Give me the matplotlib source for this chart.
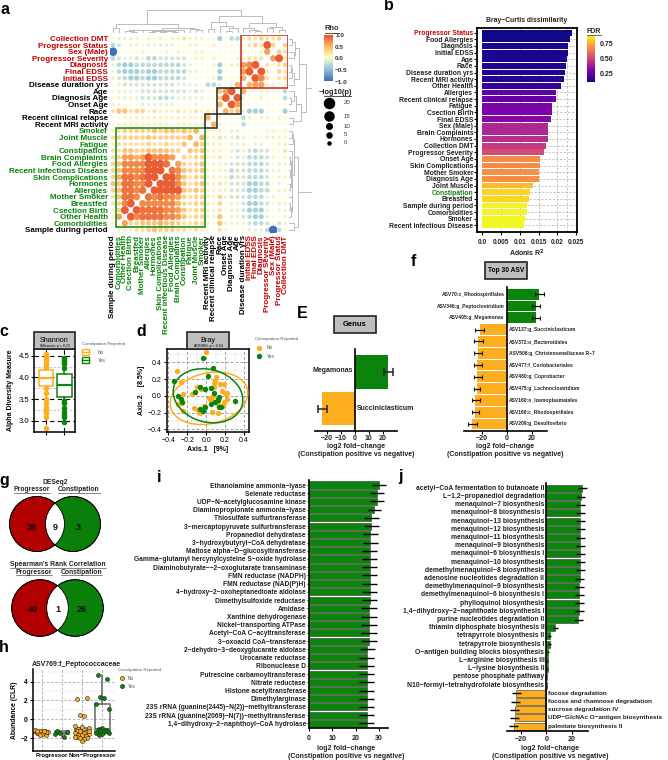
import matplotlib
matplotlib.use("Agg")
import matplotlib.pyplot as plt
import numpy as np
from matplotlib.colors import LinearSegmentedColormap
from matplotlib.patches import Rectangle, Ellipse, Circle

plt.rcParams['font.family'] = ['Liberation Sans', 'DejaVu Sans']
plt.rcParams['font.weight'] = 'bold'
plt.rcParams['axes.labelweight'] = 'bold'

W, H = 668, 760
ORANGE = '#FDAE1E'
GREEN = '#0A840A'
RED = '#C00000'
DKRED = '#B00000'
rho_cmap = LinearSegmentedColormap.from_list('rho', ['#3F6FB5', '#8FC3DE', '#FFFFC8', '#FDB45E', '#E4492B'])

# ---- panel a ----
corr_vars = ['Collection DMT', 'Progressor Status', 'Sex (Male)', 'Progressor Severity', 'Diagnosis',
             'Final EDSS', 'Initial EDSS', 'Disease duration yrs', 'Age', 'Diagnosis Age', 'Onset Age',
             'Race', 'Recent clinical relapse', 'Recent MRI activity', 'Smoker', 'Joint Muscle', 'Fatigue',
             'Constipation', 'Brain Complaints', 'Food Allergies', 'Recent infectious Disease',
             'Skin Complications', 'Hormones', 'Allergies', 'Mother Smoker', 'Breastfed', 'Csection Birth',
             'Other Health', 'Comorbidities', 'Sample during period']
corr_colors = [RED] * 7 + ['black'] * 7 + [GREEN] * 15 + ['black']
# upper-left triangle, in tenths of rho; columns run from the last variable to the first
corr_tri = [
    [0, -1, -1, -1, 1, 0, 1, 0, 1, 0, 1, 1, 2, 1, 1, 1, 0, 0, -4, 0, -3, -3, 1, 2, 2, 3, 2, 2, 3],
    [-3, -2, 0, -1, -1, 0, -1, -1, -1, -1, -1, 0, 0, 1, 1, 0, 0, 1, 0, 0, 0, 0, 0, 2, 3, 2, 9, 3],
    [-10, 0, 0, 0, 0, 1, 0, 0, 0, 1, 0, 1, 0, 0, 1, 1, 0, 0, 0, 0, 0, 0, 1, 0, 0, 1, 6],
    [-3, -2, -1, -1, -2, -1, -3, -3, -2, -2, -2, -2, -2, 0, 1, 1, 0, 1, 0, 0, 0, 1, 1, 2, 2, 2],
    [-1, -3, -4, -4, -3, -3, -3, -3, -3, -3, -3, -3, -2, -1, 0, 0, 0, 1, -4, 0, 1, 1, 6, 7, 9],
    [-1, -3, -4, -4, -4, -3, -4, -4, -3, -3, -3, -3, -3, -1, -1, 0, 0, 0, -4, 0, 0, 0, 6, 9],
    [-1, -2, -3, -4, -4, -3, -4, -4, -3, -3, -3, -3, -2, 0, 0, 0, 0, 1, -4, 0, 0, 0, 5],
    [0, -1, -2, -2, -2, -2, -2, -2, -2, -2, -2, -1, -1, -1, -1, 0, -3, -3, -1, 0, -1, 5],
    [0, -1, -1, -1, -1, -2, -2, -2, -2, -2, -2, -2, -2, -1, -2, -1, 0, 0, 4, 6, 9],
    [0, -1, -1, -1, -1, -2, -2, -2, -3, -3, -2, -1, -1, -1, -1, -1, 0, 0, 3, 9],
    [1, 1, 0, 0, 0, -1, -1, -1, -1, -1, -1, 0, 0, 0, -1, 0, 0, 0, 5],
    [2, 4, 4, 2, 3, 3, 1, 2, 1, 1, 1, 2, 1, 1, 2, 1, 1, 1],
    [0, 0, 1, 1, 1, 1, 1, 1, 1, 1, 1, 1, 1, 1, 1, 1, 5],
    [0, 1, 1, 1, 1, 1, 1, 1, 1, 1, 0, 1, 1, 1, 1, 1],
    [1, 2, 3, 3, 3, 3, 3, 4, 3, 4, 4, 3, 4, 3, 5],
    [2, 3, 3, 3, 3, 3, 4, 3, 3, 3, 3, 3, 3, 5],
    [1, 2, 2, 2, 2, 2, 3, 2, 2, 3, 2, 2, 4],
    [2, 2, 4, 4, 3, 3, 4, 4, 4, 4, 3, 3],
    [2, 3, 6, 6, 5, 6, 9, 7, 7, 7, 6],
    [3, 4, 7, 7, 7, 7, 9, 9, 9, 8],
    [3, 4, 7, 7, 7, 7, 9, 9, 9],
    [3, 5, 8, 8, 7, 8, 9, 9],
    [4, 4, 8, 8, 7, 7, 9],
    [3, 4, 8, 8, 7, 8],
    [2, 4, 8, 8, 7],
    [2, 3, 7, 9],
    [1, 3, 9],
    [1, 6],
    [1],
]
# dendrogram over column order: (height, left, right), leaves are column numbers
_a2 = (0.07, 2, (0.05, 3, 4))
_a7 = (0.09, (0.05, 6, 7), (0.07, (0.04, 8, 9), (0.03, 10, 11)))
_a10 = (0.14, (0.12, _a2, (0.11, 5, _a7)), 12)
_left = (0.4, (0.2, 0, 1), (0.2, _a10, (0.17, 13, (0.13, 14, 15))))
_ages = (0.3, 18, (0.2, (0.1, 19, 20), 21))
_clin = (0.5, (0.16, 16, 17), _ages)
_sev = (0.22, 22, (0.14, 23, (0.09, 24, 25)))
_oth = (0.27, (0.2, 26, 27), (0.12, 28, 29))
corr_tree = (1.0, _left, (0.75, _clin, (0.45, _sev, _oth)))
corr_boxes = [(0.5, 15.5, 13.5, 28.5, GREEN), (15.5, 17.5, 11.5, 13.5, '#222222'),
              (17.5, 21.5, 7.5, 11.5, '#222222'), (21.5, 29.5, -0.5, 7.5, '#C62020')]
size_legend = [20, 15, 10, 5, 0]

# ---- panel b ----
adonis_names = ['Progressor Status', 'Food Allergies', 'Diagnosis', 'Initial EDSS', 'Age', 'Race',
                'Disease duration yrs', 'Recent MRI activity', 'Other Health', 'Allergies',
                'Recent clinical relapse', 'Fatigue', 'Csection Birth', 'Final EDSS', 'Sex (Male)',
                'Brain Complaints', 'Hormones', 'Collection DMT', 'Progressor Severity', 'Onset Age',
                'Skin Complications', 'Mother Smoker', 'Diagnosis Age', 'Joint Muscle', 'Constipation',
                'Breastfed', 'Sample during period', 'Comorbidities', 'Smoker', 'Recent Infectious Disease']
adonis_r2 = [.0240, .0235, .0229, .0228, .0227, .0224, .0221, .0217, .0209, .0196, .0196, .0187, .0186,
             .0183, .0176, .0176, .0174, .0169, .0164, .0154, .0153, .0152, .0150, .0136, .0126, .0125,
             .0119, .0118, .0115, .0110]
adonis_fdr = [.12, .12, .13, .13, .13, .14, .14, .15, .17, .26, .26, .31, .31, .33, .42, .42, .44, .48,
              .52, .68, .68, .69, .69, .78, .83, .83, .88, .88, .89, .89]

# ---- panel c ----
shannon_no = [4.55, 4.5, 4.46, 4.4, 4.33, 4.27, 4.2, 3.75, 3.65, 3.5, 3.4, 3.32, 3.27, 3.22, 3.17, 3.08, 2.82]
shannon_yes = [4.45, 4.4, 4.36, 4.3, 4.22, 3.45, 3.4, 3.3, 3.2, 3.14, 3.08, 2.97]
shannon_box_no = dict(q1=3.8, med=3.98, q3=4.17, whislo=3.3, whishi=4.55)
shannon_box_yes = dict(q1=3.55, med=3.82, q3=4.08, whislo=2.97, whishi=4.45)

# ---- panel d ----
pcoa_no_x = [0.0, -0.31, -0.27, -0.24, -0.15, -0.1, -0.05, 0.1, 0.09, 0.08, 0.08, 0.15, 0.19, 0.17, 0.2, 0.22,
             0.22, 0.19, 0.18, 0.12, 0.07, 0.05, 0.03, -0.3, -0.26, -0.13, -0.09, -0.07, -0.05, -0.02, 0.06, 0.12, -0.25]
pcoa_no_y = [0.52, 0.3, 0.17, 0.02, 0.02, 0.1, 0.08, 0.23, 0.18, 0.15, 0.1, 0.14, 0.14, 0.06, 0.03, 0.03,
             -0.04, -0.08, -0.12, -0.1, 0.0, -0.05, -0.03, -0.1, -0.09, -0.14, -0.17, -0.2, -0.19, -0.12, -0.19, -0.2, -0.18]
pcoa_yes_x = [-0.03, 0.07, 0.02, -0.34, -0.3, -0.27, -0.12, -0.06, -0.01, 0.05, 0.08, 0.13, 0.14, 0.12, 0.09,
              0.05, 0.14, 0.16, 0.31, -0.07, -0.01, -0.03, -0.26]
pcoa_yes_y = [0.45, 0.33, 0.24, 0.18, 0.0, -0.04, 0.04, 0.1, 0.08, 0.09, 0.03, -0.04, -0.02, -0.05, -0.08,
              -0.1, -0.13, -0.13, -0.06, -0.16, -0.13, -0.18, -0.08]
ellipse_no = (0.03, -0.03, 0.84, 0.6, 18)
ellipse_yes = (0.02, 0.0, 0.76, 0.62, -25)

# ---- panel E ----
genus_names = ['Megamonas', 'Succiniclasticum']
genus_lfc = [24, -24]
genus_lo = [21, -26.3]
genus_hi = [27.5, -20]

# ---- panel f ----
asv_names = ['ASV70:c_Rhodospirillales', 'ASV346:g_Peptoclostridium', 'ASV405:g_Megamonas',
             'ASV137:g_Succiniclasticum', 'ASV372:o_Bacteroidales', 'ASV506:g_Christensenellaceae R\u22127',
             'ASV477:f_Coriobacteriales', 'ASV480:g_Coprobacter', 'ASV475:g_Lachnoclostridium',
             'ASV160:o_Izemoplasmatales', 'ASV190:c_Rhodospirillales', 'ASV209:g_Desulfovibrio']
asv_lfc = [26, 23.3, 23.3, -21.5, -23, -23, -23.5, -23.5, -24, -25, -25.5, -28]
asv_lo = [22.5, 20, 20, -25, -26, -26, -26.5, -26.5, -26.5, -27.5, -28, -31]
asv_hi = [29.5, 27, 27, -18, -19, -19.5, -19.5, -19.5, -21, -21, -22, -24]

# ---- panel g ----
venn_top = [38, 9, 3]
venn_bottom = [40, 1, 26]

# ---- panel h ----
h_prog_no = [-1.5, -1.7, -1.2, -1.3, -1.1, -1.4, -1.6, -1.5, -1.2, -1.3, -1.4, -1.7, -1.3]
h_prog_yes = [-1.2, -1.4, -1.5, -1.85, -1.6]
h_non_no = [2.2, 2.3, 0.4, 0.35, -0.7, -0.9, -0.8, -1.0, -1.2, -1.3, -1.4, -1.3, -1.5, -1.5, -1.6, -1.7, -1.7,
            -1.8, -1.9, -2.0, -2.0, -2.1, -1.9, -1.2, -2.3]
h_non_yes = [4.7, 4.3, 2.4, 2.3, 1.6, 1.1, -0.9, -1.0, -1.1, -1.1, -1.3, -1.3, -1.4, -1.5, -1.5, -1.6, -1.7]
h_boxes = [dict(q1=-1.5, med=-1.4, q3=-1.2, whislo=-1.7, whishi=-1.1),
           dict(q1=-1.6, med=-1.5, q3=-1.3, whislo=-1.85, whishi=-1.2),
           dict(q1=-1.8, med=-1.3, q3=-0.9, whislo=-2.3, whishi=-0.7),
           dict(q1=-1.4, med=-1.0, q3=1.6, whislo=-1.7, whishi=4.7)]

# ---- panel i ----
enzyme_names = ['Ethanolamine ammonia\u2212lyase', 'Selenate reductase', 'UDP\u2212N\u2212acetylglucosamine kinase',
                'Diaminopropionate ammonia\u2212lyase', 'Thiosulfate sulfurtransferase',
                '3\u2212mercaptopyruvate sulfurtransferase', 'Propanediol dehydratase',
                '3\u2212hydroxybutyryl\u2212CoA dehydratase', 'Maltose alpha\u2212D\u2212glucosyltransferase',
                'Gamma\u2212glutamyl hercynylcysteine S\u2212oxide hydrolase',
                'Diaminobutyrate\u2212\u22122\u2212oxoglutarate transaminase', 'FMN reductase (NADPH)',
                'FMN reductase (NAD(P)H)', '4\u2212hydroxy\u22122\u2212oxoheptanedioate aldolase',
                'Dimethylsulfoxide reductase', 'Amidase', 'Xanthine dehydrogenase', 'Nickel\u2212transporting ATPase',
                'Acetyl\u2212CoA C\u2212acyltransferase', '3\u2212oxoacid CoA\u2212transferase',
                '2\u2212dehydro\u22123\u2212deoxyglucarate aldolase', 'Urocanate reductase', 'Ribonuclease D',
                'Putrescine carbamoyltransferase', 'Nitrate reductase', 'Histone acetyltransferase',
                'Dimethylarginase', '23S rRNA (guanine(2445)\u2212N(2))\u2212methyltransferase',
                '23S rRNA (guanine(2069)\u2212N(7))\u2212methyltransferase',
                '1,4\u2212dihydroxy\u22122\u2212naphthoyl\u2212CoA hydrolase']
enzyme_lfc = [30, 29.3, 29, 28, 26.7, 26.7, 26.3, 26.3, 26, 26, 26, 26, 26, 26, 26, 25.7, 25.7, 25.7, 25.7, 25.7,
              25, 24.7, 24.7, 24.7, 24.7, 24.7, 24.7, 24.7, 24.7, 24.7]
enzyme_err = [3.0, 3.0, 3.0, 2.8, 3.3, 3.3, 3.2, 3.2, 3.2, 3.2, 3.2, 3.2, 3.2, 3.2, 3.2, 3.3, 3.3, 3.3, 3.3, 3.3,
              3.3, 3.2, 3.2, 3.2, 3.2, 3.2, 3.2, 3.2, 3.2, 3.2]

# ---- panel j ----
path_names = ['acetyl\u2212CoA fermentation to butanoate II', 'L\u22121,2\u2212propanediol degradation',
              'menaquinol\u22127 biosynthesis', 'menaquinol\u22128 biosynthesis I', 'menaquinol\u221213 biosynthesis',
              'menaquinol\u221212 biosynthesis', 'menaquinol\u221211 biosynthesis', 'menaquinol\u22129 biosynthesis',
              'menaquinol\u22126 biosynthesis I', 'menaquinol\u221210 biosynthesis', 'demethylmenaquinol\u22128 biosynthesis',
              'adenosine nucleotides degradation II', 'demethylmenaquinol\u22129 biosynthesis',
              'demethylmenaquinol\u22126 biosynthesis I', 'phylloquinol biosynthesis',
              '1,4\u2212dihydroxy\u22122\u2212naphthoate biosynthesis I', 'purine nucleotides degradation II',
              'thiamin diphosphate biosynthesis II', 'tetrapyrrole biosynthesis II', 'tetrapyrrole biosynthesis I',
              'O\u2212antigen building blocks biosynthesis', 'L\u2212arginine biosynthesis III',
              'L\u2212lysine biosynthesis II', 'pentose phosphate pathway', 'N10\u2212formyl\u2212tetrahydrofolate biosynthesis',
              'fucose degradation', 'fucose and rhamnose degradation', 'sucrose degradation IV',
              'UDP\u2212GlcNAc O\u2212antigen biosynthesis', 'palmitate biosynthesis II']
path_lfc = [28.5, 27.5, 27, 27, 27, 27, 27, 27, 27, 27, 27, 26.5, 26, 26, 26, 26, 25.5, 7, 2.5, 2.5, 1.5, 1, 1, 0.3, 0.3,
            -24, -24.5, -25, -25, -26]
path_err = [3.5, 3.5, 3.5, 3.5, 3.5, 3.5, 3.5, 3.5, 3.5, 3.5, 3.5, 3.5, 3.5, 3.5, 3.5, 3.5, 3.5, 2, 1, 1, 0.8, 0.5, 0.5,
            0.1, 0.1, 3.5, 3.5, 3.5, 3.5, 3.5]


def axpx(l, t, r, b, **kw):
    return fig.add_axes([l / W, 1 - b / H, (r - l) / W, (b - t) / H], **kw)


def spine_width(ax, lw):
    for s in ax.spines.values():
        s.set_linewidth(lw)


def grid_lines(ax, xs, ys, color='#888888', lw=0.5):
    for v in xs:
        ax.axvline(v, color=color, lw=lw, ls=(0, (4, 3)), zorder=0)
    for v in ys:
        ax.axhline(v, color=color, lw=lw, ls=(0, (4, 3)), zorder=0)


def strip(l, t, r, b, text, fs=6):
    over.add_patch(Rectangle((l, t), r - l, b - t, fc='#BEBEBE', ec='#222222', lw=1.2))
    over.text((l + r) / 2, (t + b) / 2, text, ha='center', va='center', fontsize=fs)


def lfc_labels(y1, y2, x):
    over.text(x, y1, 'log2 fold\u2212change', ha='center', va='center', fontsize=5.0, color='#222222')
    over.text(x, y2, '(Constipation positive vs negative)', ha='center', va='center', fontsize=5.0, color='#222222')


def lfc_axes(ax, left_lim, right_lim, ticks, pad=1.0):
    ax.set_xlim(left_lim, right_lim)
    for s in ['top', 'right']:
        ax.spines[s].set_visible(False)
    ax.spines['left'].set_position(('data', 0))
    ax.spines['left'].set_linewidth(1.2)
    ax.spines['bottom'].set_linewidth(1.2)
    ax.set_xticks(ticks)
    ax.set_xticklabels([str(t).replace('-', '\u2212') for t in ticks], fontsize=5.0, color='#222222')
    ax.tick_params(axis='x', length=2, pad=pad, width=0.8)
    ax.set_yticks([])


fig = plt.figure(figsize=(W / 100, H / 100), dpi=100)
over = fig.add_axes([0, 0, 1, 1], zorder=5)
over.set_xlim(0, W)
over.set_ylim(H, 0)
over.axis('off')
over.patch.set_alpha(0)

for txt, x, y in [('a', 5, 10), ('b', 389, 6), ('c', 4, 332), ('d', 141, 331), ('E', 302, 313), ('f', 413, 262),
                  ('g', 4, 480), ('h', 4, 648), ('i', 159, 477), ('j', 400, 477)]:
    over.text(x, y, txt, fontsize=11.5, ha='center', va='center', fontweight='bold')

# a: correlation dots
n = len(corr_vars)
corr = np.full((n, n), np.nan)
for r, row in enumerate(corr_tri):
    for c, v in enumerate(row):
        corr[r, c] = v / 10
        corr[n - 1 - c, n - 1 - r] = v / 10

ax = axpx(110, 35.2, 288, 233.2)
ax.set_xlim(-0.5, 29.5)
ax.set_ylim(29.5, -0.5)
cols, rows = np.meshgrid(np.arange(n), np.arange(n))
mask = ~np.isnan(corr)
diam = 3.0 + 5.5 * np.abs(corr[mask])
ax.scatter(cols[mask], rows[mask], s=(diam * 0.72) ** 2, c=corr[mask], cmap=rho_cmap, vmin=-1, vmax=1,
           linewidths=0, zorder=2)
for c0, c1, r0, r1, col in corr_boxes:
    ax.add_patch(Rectangle((c0, r0), c1 - c0, r1 - r0, fill=False, ec=col, lw=1.1, zorder=3))
for s in ax.spines.values():
    s.set_visible(False)
ax.set_yticks(range(n))
ax.set_yticklabels(corr_vars, fontsize=5.8)
ax.set_xticks(range(n))
ax.set_xticklabels(corr_vars[::-1], fontsize=5.8, rotation=90)
ax.tick_params(length=0, pad=1.5)
for lab, col in zip(ax.get_yticklabels(), corr_colors):
    lab.set_color(col)
for lab, col in zip(ax.get_xticklabels(), corr_colors[::-1]):
    lab.set_color(col)


def draw_tree(a, node, horizontal):
    if not isinstance(node, tuple):
        return node, 0
    h, l, r = node
    lp, lh = draw_tree(a, l, horizontal)
    rp, rh = draw_tree(a, r, horizontal)
    if horizontal:
        a.plot([lp, lp, rp, rp], [lh, h, h, rh], color='#BBBBBB', lw=0.7)
    else:
        a.plot([lh, h, h, rh], [lp, lp, rp, rp], color='#BBBBBB', lw=0.7)
    return (lp + rp) / 2, h


dt = axpx(110, 10, 288, 33)
dt.set_xlim(-0.5, 29.5)
dt.set_ylim(0, 1)
dt.axis('off')
draw_tree(dt, corr_tree, True)
dr = axpx(289, 35.2, 312, 233.2)
dr.set_ylim(-0.5, 29.5)
dr.set_xlim(0, 1)
dr.axis('off')
draw_tree(dr, corr_tree, False)

cb = axpx(324, 35, 333, 81.5)
cb.imshow(np.linspace(1, -1, 200)[:, None], cmap=rho_cmap, aspect='auto', extent=[0, 1, -1, 1], vmin=-1, vmax=1)
cb.set_xticks([])
cb.yaxis.tick_right()
cb.set_yticks([-1, -0.5, 0, 0.5, 1])
cb.set_yticklabels(['\u22121.0', '\u22120.5', '0.0', '0.5', '1.0'], fontsize=4.6, color='#333333')
cb.tick_params(length=0, pad=1.5)
for s in cb.spines.values():
    s.set_visible(False)
over.text(332, 29, 'Rho', ha='center', va='center', fontsize=5.4, color='#333333')
over.plot([325, 339], [32.5, 32.5], color='#333333', lw=0.6)
over.text(335, 92, '\u2212log10(p)', ha='center', va='center', fontsize=5.4, color='#222222')
over.plot([324, 351], [96, 96], color='#333333', lw=0.6)
for v, y, d in zip(size_legend, [103, 116, 126, 135, 143], [11.5, 10.5, 7, 6.5, 4.5]):
    over.scatter([329], [y], s=(d * 0.72) ** 2, color='black', linewidths=0)
    over.text(344, y, str(v), va='center', fontsize=4.4, color='#333333', fontweight='normal')

# b: adonis bars
ax = axpx(477.3, 28, 577.3, 231.7)
ypos = np.arange(len(adonis_names))
ax.set_xlim(-0.00133, 0.02535)
ax.set_ylim(29.5 + 0.45, -0.5 - 0.2)
grid_lines(ax, [0.005, 0.01, 0.015, 0.02, 0.0225], [], color='#999999', lw=0.4)
for y in ypos:
    ax.plot([adonis_r2[y], 0.0252], [y, y], color='#999999', lw=0.4, ls=(0, (4, 3)), zorder=0)
ax.barh(ypos, adonis_r2, height=0.88, color=plt.cm.plasma((np.array(adonis_fdr) - 0.117) / (0.895 - 0.117)), zorder=2)
ax.set_yticks(ypos)
ax.set_yticklabels(adonis_names, fontsize=4.9, color='#222222')
ax.get_yticklabels()[0].set_color(RED)
ax.get_yticklabels()[24].set_color(GREEN)
ax.set_xticks([0, 0.005, 0.01, 0.015, 0.02, 0.025])
ax.set_xticklabels(['0.0', '0.005', '0.01', '0.015', '0.02', '0.025'], fontsize=4.7, color='#222222')
ax.tick_params(axis='y', length=2, pad=1, width=0.8)
ax.tick_params(axis='x', length=2, pad=3, width=0.8)
spine_width(ax, 1.3)
over.text(527, 20.5, 'Bray\u2212Curtis dissimilarity', ha='center', va='center', fontsize=4.9, color='#222222')
over.text(527, 253.5, 'Adonis R$^{\\mathbf{2}}$', ha='center', va='center', fontsize=5.0, color='#222222')
cb = axpx(586.7, 35, 594.3, 81.7)
cb.imshow(np.linspace(1, 0, 200)[:, None], cmap='plasma', aspect='auto', extent=[0, 1, 0.117, 0.895])
cb.set_xticks([])
cb.yaxis.tick_right()
cb.set_yticks([0.25, 0.5, 0.75])
cb.set_yticklabels(['0.25', '0.50', '0.75'], fontsize=5.0, color='#222222')
cb.tick_params(length=0, pad=4)
for s in cb.spines.values():
    s.set_visible(False)
over.text(594, 31.5, 'FDR', ha='center', va='center', fontsize=5.0, color='#222222')
over.plot([587, 601], [34.5, 34.5], color='#333333', lw=0.5)

# c: shannon
ax = axpx(34, 349, 75, 431.7)
ax.set_xlim(0.374, 2.566)
ax.set_ylim(2.746, 4.655)
grid_lines(ax, [1, 2], [4.5, 4, 3.5, 3], color='black', lw=0.8)
grid_lines(ax, [], [4.25, 3.75, 3.25], color='#999999', lw=0.4)
ax.scatter([1] * len(shannon_no), shannon_no, s=16, color=ORANGE, linewidths=0, zorder=2)
ax.scatter([2] * len(shannon_yes), shannon_yes, s=16, color=GREEN, linewidths=0, zorder=2)
for pos, st, col in [(1, shannon_box_no, ORANGE), (2, shannon_box_yes, GREEN)]:
    ax.bxp([dict(st, fliers=[])], positions=[pos], widths=0.76, showcaps=False, showfliers=False, patch_artist=True,
           boxprops=dict(facecolor='white', edgecolor=col, lw=1.1), medianprops=dict(color=col, lw=1.6),
           whiskerprops=dict(color=col, lw=1.1), zorder=3)
ax.set_xticks([1, 2])
ax.set_xticklabels([])
ax.set_yticks([3, 3.5, 4, 4.5])
ax.set_yticklabels(['3.0', '3.5', '4.0', '4.5'], fontsize=5.6, fontweight='normal')
ax.tick_params(length=2, pad=1.5)
ax.set_ylabel('Alpha Diversity Measure', fontsize=5.0, labelpad=3)
spine_width(ax, 1.1)
strip(34, 332, 75, 349, '', 6)
over.text(54.5, 340.5, 'Shannon', ha='center', va='center', fontsize=5.2, fontweight='normal')
over.text(54.5, 346.5, 'Wilcoxon, p = 0.23', ha='center', va='center', fontsize=2.6, fontweight='normal')
over.text(82, 344, 'Constipation Reported', va='center', fontsize=3.2, color='#555555', fontweight='normal')
for y, col, lab in [(352, ORANGE, 'No'), (360, GREEN, 'Yes')]:
    over.add_patch(Rectangle((82, y - 3), 6.5, 6, fc='white', ec=col, lw=1))
    over.plot([82, 88.5], [y, y], color=col, lw=1)
    over.text(98, y, lab, va='center', fontsize=3.4, color='#555555', fontweight='normal')

# d: ordination
ax = axpx(166.7, 349, 249.3, 431.7)
ax.set_xlim(-0.417, 0.456)
ax.set_ylim(-0.429, 0.559)
grid_lines(ax, [-0.4, -0.2, 0, 0.2, 0.4], [-0.4, -0.2, 0, 0.2, 0.4], color='#777777', lw=0.5)
grid_lines(ax, [-0.3, -0.1, 0.1, 0.3], [-0.3, -0.1, 0.1, 0.3, 0.5], color='#BBBBBB', lw=0.3)
ax.scatter(pcoa_no_x, pcoa_no_y, s=15, color=ORANGE, linewidths=0, zorder=2)
ax.scatter(pcoa_yes_x, pcoa_yes_y, s=15, color=GREEN, linewidths=0, zorder=3)
for (cx, cy, w, h, ang), col in [(ellipse_no, ORANGE), (ellipse_yes, GREEN)]:
    ax.add_patch(Ellipse((cx, cy), w, h, angle=ang, fill=False, ec=col, lw=1.1, zorder=4))
ax.set_xticks([-0.4, -0.2, 0, 0.2, 0.4])
ax.set_xticklabels(['\u22120.4', '\u22120.2', '0.0', '0.2', '0.4'], fontsize=5.0, fontweight='normal')
ax.set_yticks([-0.4, -0.2, 0, 0.2, 0.4])
ax.set_yticklabels(['\u22120.4', '\u22120.2', '0.0', '0.2', '0.4'], fontsize=5.0, fontweight='normal')
ax.tick_params(length=2, pad=1.5)
ax.set_xlabel('Axis.1   [9%]', fontsize=5.0, labelpad=1.5)
ax.set_ylabel('Axis.2    [8.5%]', fontsize=5.0, labelpad=2)
spine_width(ax, 1.1)
strip(187, 332, 229, 349, '', 6)
over.text(208, 340.5, 'Bray', ha='center', va='center', fontsize=5.2, fontweight='normal')
over.text(208, 346.5, 'ADONIS, p = 0.54', ha='center', va='center', fontsize=2.6, fontweight='normal')
over.text(255, 339, 'Constipation Reported', va='center', fontsize=3.2, color='#555555', fontweight='normal')
for y, col, lab in [(347.5, ORANGE, 'No'), (356, GREEN, 'Yes')]:
    over.scatter([259], [y], s=15, color=col, linewidths=0)
    over.text(267, y, lab, va='center', fontsize=3.4, color='#555555', fontweight='normal')

# E: genus
ax = axpx(315, 349.3, 396.7, 431.3)
ypos = np.arange(len(genus_names))
ax.set_ylim(1.62, -0.62)
ax.barh(ypos, genus_lfc, height=0.92, color=[GREEN, ORANGE])
ax.errorbar(genus_lfc, ypos, xerr=[np.array(genus_lfc) - genus_lo, np.array(genus_hi) - genus_lfc], fmt='none',
            ecolor='#222222', elinewidth=1.1, capsize=3, capthick=1.1)
lfc_axes(ax, -28.8, 30, [-20, -10, 0, 10, 20])
over.text(353, 371, genus_names[0], ha='right', va='center', fontsize=5.0, color='#222222')
over.text(357, 409, genus_names[1], ha='left', va='center', fontsize=5.0, color='#222222')
strip(334, 316, 376, 332.7, 'Genus', 5.5)
lfc_labels(447, 454, 356)

# f: top asv
ax = axpx(464.3, 287.3, 546.7, 431.3)
ypos = np.arange(len(asv_names))
ax.set_ylim(11.62, -0.59)
lfc = np.array(asv_lfc)
ax.barh(ypos, lfc, height=0.92, color=[GREEN if v > 0 else ORANGE for v in lfc])
ax.errorbar(lfc, ypos, xerr=[lfc - asv_lo, np.array(asv_hi) - lfc], fmt='none', ecolor='#111111', elinewidth=0.9,
            capsize=1.2, capthick=0.8)
lfc_axes(ax, -33.9, 32, [-20, 0, 20])
for y, name, v in zip(ypos, asv_names, lfc):
    if v > 0:
        ax.text(-1.7, y, name, ha='right', va='center', fontsize=3.6, color='#222222')
    else:
        ax.text(1.7, y, name, ha='left', va='center', fontsize=3.6, color='#222222')
strip(485, 261.7, 526.7, 279, 'Top 30 ASV', 4.8)
lfc_labels(447, 454, 505)


# g: venn diagrams
def venn(cl, cr, cy, rad, vals, ynum):
    left = Circle((cl, cy), rad, fc=DKRED, ec='black', lw=0.6)
    right = Circle((cr, cy), rad, fc='#0A7F0A', ec='black', lw=0.6)
    over.add_patch(left)
    over.add_patch(right)
    lens = Circle((cl, cy), rad, fc='white', ec='none', zorder=1.5)
    over.add_patch(lens)
    lens.set_clip_path(right)
    for rc in [cl, cr]:
        over.add_patch(Circle((rc, cy), rad, fill=False, ec='black', lw=0.6, zorder=1.6))
    mid = (cl + cr) / 2
    for x, v in zip([(cl - rad + cr - rad) / 2 + 4, mid, (cl + rad + cr + rad) / 2 - 4], vals):
        over.text(x, ynum, str(v), ha='center', va='center', fontsize=6.5, color='#111111', zorder=3)


venn(37, 73, 524, 27.5, venn_top, 527.5)
venn(40, 75, 608, 28.3, venn_bottom, 609.7)
for txt, x, y, x0, x1 in [('DESeq2', 55.5, 483, None, None), ('Progressor', 32, 489.7, 13.5, 50),
                          ('Constipation', 79, 489.7, 58, 100),
                          ("Spearman's Rank Correlation", 57.7, 565, 10, 105.5), ('Progressor', 34, 572, 15.5, 52),
                          ('Constipation', 81.6, 572, 61, 102)]:
    over.text(x, y, txt, ha='center', va='center', fontsize=4.9, color='#222222')
    if x0 is not None:
        over.plot([x0, x1], [y + 3.4, y + 3.4], color='#555555', lw=0.5)

# h: single asv
ax = axpx(32.7, 669, 115, 751)
ax.set_xlim(0.532, 2.56)
ax.set_ylim(-3.38, 5.35)
grid_lines(ax, [0.75, 1.25, 1.75, 2.25], [-2, 0, 2, 4], color='#888888', lw=0.45)
grid_lines(ax, [], [-3, -1, 1, 3, 5], color='#BBBBBB', lw=0.3)
for pos, st in zip([0.75, 1.25, 1.75, 2.25], h_boxes):
    ax.bxp([dict(st, fliers=[])], positions=[pos], widths=0.36, showcaps=False, showfliers=False,
           boxprops=dict(color='#666666', lw=1.1), medianprops=dict(color='#666666', lw=1.1),
           whiskerprops=dict(color='#666666', lw=1.1), zorder=2)
swarm = [-0.12, 0.12, -0.05, 0.05, -0.17, 0.17, 0.0, -0.09, 0.09]
for pos, vals, col in [(0.75, h_prog_no, ORANGE), (1.25, h_prog_yes, GREEN), (1.75, h_non_no, ORANGE), (2.25, h_non_yes, GREEN)]:
    xs = [pos + swarm[i % len(swarm)] for i in range(len(vals))]
    ax.scatter(xs, vals, s=8.5, color=col, edgecolors='#222222', linewidths=0.4, zorder=3)
ax.set_xticks([1, 2])
ax.set_xticklabels(['Progressor', 'Non\u2212Progressor'], fontsize=4.3)
ax.set_yticks([-2, 0, 2, 4])
ax.set_yticklabels(['\u22122', '0', '2', '4'], fontsize=4.8)
ax.tick_params(axis='y', length=2, pad=1.5)
ax.tick_params(axis='x', length=0, pad=1.5)
ax.set_ylabel('Abundance (CLR)', fontsize=4.9, labelpad=2)
for s in ['top', 'right']:
    ax.spines[s].set_visible(False)
spine_width(ax, 1.1)
over.text(32, 664, 'ASV769:f_Peptococcaceae', ha='left', va='center', fontsize=5.0, color='#222222')
over.text(118, 669.7, 'Constipation Reported', va='center', fontsize=3.2, color='#555555', fontweight='normal')
for y, col, lab in [(678, ORANGE, 'No'), (686, GREEN, 'Yes')]:
    over.scatter([122], [y], s=9, color=col, edgecolors='#222222', linewidths=0.4)
    over.text(128, y, lab, va='center', fontsize=3.4, color='#555555', fontweight='normal')

# i: enzymes
ax = axpx(309, 480, 387.7, 727.7)
ypos = np.arange(len(enzyme_names))
ax.set_ylim((727.7 - 485) / 8.22, (480 - 485) / 8.22)
ax.barh(ypos, enzyme_lfc, height=0.86, color=GREEN, edgecolor='#333333', linewidth=0.4)
ax.errorbar(enzyme_lfc, ypos, xerr=enzyme_err, fmt='none', ecolor='black', elinewidth=1.0, capsize=0)
lfc_axes(ax, 0, 33.7, [0, 10, 20, 30], pad=3)
ax.set_yticks(ypos)
ax.set_yticklabels(enzyme_names, fontsize=4.8, color='#222222')
ax.tick_params(axis='y', length=1.5, pad=0.8, width=0.6)
lfc_labels(748.7, 756, 346)

# j: pathways
ax = axpx(506.7, 483, 588.3, 730.7)
ypos = np.arange(len(path_names))
ax.set_ylim((730.7 - 488.3) / 8.2, (483 - 488.3) / 8.2)
plfc = np.array(path_lfc)
ax.barh(ypos, plfc, height=0.86, color=[GREEN if v > 0 else ORANGE for v in plfc], edgecolor='#333333', linewidth=0.4)
ax.errorbar(plfc, ypos, xerr=path_err, fmt='none', ecolor='black', elinewidth=1.0, capsize=0)
lfc_axes(ax, -31.5, 33.3, [-20, 0, 20], pad=2)
for y, name, v in zip(ypos, path_names, plfc):
    if v > 0:
        ax.text(-1.6, y, name, ha='right', va='center', fontsize=4.85, color='#222222', clip_on=False)
    else:
        ax.text(1.2, y, name, ha='left', va='center', fontsize=4.6, color='#222222', clip_on=False)
lfc_labels(748.7, 756, 550)

fig.savefig('out.png', dpi=100)
